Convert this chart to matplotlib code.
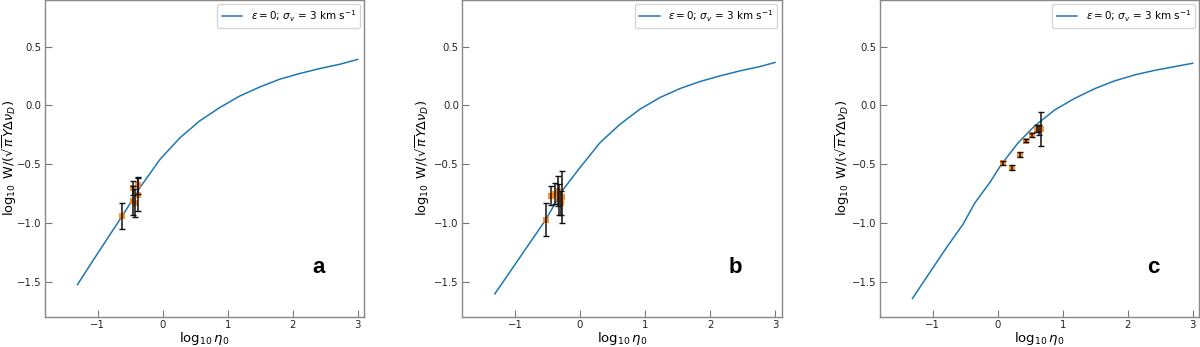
import matplotlib
matplotlib.use('Agg')
import matplotlib.pyplot as plt

# curve of growth (one per panel)
curve_a_x = [-1.31, -1.0, -0.62, -0.35, -0.04, 0.27, 0.57, 0.88, 1.19, 1.50, 1.80, 2.11, 2.42, 2.73, 3.0]
curve_a_y = [-1.526, -1.26, -0.94, -0.70, -0.458, -0.273, -0.131, -0.017, 0.082, 0.159, 0.224, 0.273, 0.315, 0.352, 0.393]

curve_b_x = [-1.31, -1.0, -0.53, -0.256, 0.0, 0.31, 0.615, 0.92, 1.23, 1.54, 1.85, 2.15, 2.46, 2.77, 3.0]
curve_b_y = [-1.605, -1.355, -0.975, -0.713, -0.529, -0.315, -0.16, -0.032, 0.068, 0.145, 0.205, 0.252, 0.295, 0.332, 0.367]

curve_c_x = [-1.31, -1.04, -0.785, -0.53, -0.35, -0.12, 0.06, 0.32, 0.57, 0.88, 1.19, 1.50, 1.80, 2.11, 2.42, 2.73, 3.0]
curve_c_y = [-1.645, -1.42, -1.21, -1.01, -0.83, -0.656, -0.50, -0.315, -0.174, -0.037, 0.062, 0.145, 0.21, 0.261, 0.30, 0.332, 0.36]

# measured points with errors
pts_a_x = [-0.62, -0.46, -0.46, -0.43, -0.385, -0.38]
pts_a_y = [-0.94, -0.70, -0.81, -0.83, -0.68, -0.76]
pts_a_err = [0.11, 0.06, 0.12, 0.12, 0.07, 0.14]

pts_b_x = [-0.53, -0.45, -0.38, -0.34, -0.32, -0.30, -0.28]
pts_b_y = [-0.975, -0.77, -0.75, -0.73, -0.80, -0.83, -0.78]
pts_b_err = [0.14, 0.08, 0.09, 0.13, 0.13, 0.10, 0.22]

pts_c_x = [0.08, 0.22, 0.34, 0.44, 0.53, 0.60, 0.64, 0.67]
pts_c_y = [-0.49, -0.53, -0.42, -0.30, -0.25, -0.20, -0.21, -0.20]
pts_c_err = [0.015, 0.02, 0.02, 0.015, 0.015, 0.03, 0.04, 0.145]

panel_labels = ['a', 'b', 'c']
legend_text = r'$\varepsilon = 0$; $\sigma_v$ = 3 km s$^{-1}$'


def drawPanel(ax, cx, cy, px, py, perr, letter, ylab_x):
    ax.plot(cx, cy, color='#1f77b4', lw=1.1, label=legend_text, zorder=2)
    ax.scatter(px, py, marker='s', s=22, color='#ff7f0e', alpha=0.85, lw=0, zorder=3)
    ax.errorbar(px, py, yerr=perr, fmt='none', ecolor='#111111', elinewidth=1.1,
                capsize=2, capthick=1, zorder=4)
    ax.set_xlim(-1.81, 3.1)
    ax.set_ylim(-1.8, 0.9)
    ax.set_xticks([-1, 0, 1, 2, 3])
    ax.set_yticks([-1.5, -1.0, -0.5, 0.0, 0.5])
    ax.tick_params(direction='in', length=5, width=0.8, color='#777777',
                   labelsize=7.3, labelcolor='#222222', pad=2.5)
    for sp in ax.spines.values():
        sp.set_color('#888888')
        sp.set_linewidth(1.0)
    ax.set_xlabel(r'$\log_{10}\eta_0$', fontsize=9.5, labelpad=0)
    ax.set_ylabel(r'$\log_{10}$ W/($\sqrt{\pi}Y\Delta\nu_D$)', fontsize=9.3)
    ax.yaxis.set_label_coords(ylab_x, 0.5)
    ax.legend(loc='upper right', fontsize=7.5, handlelength=2, borderaxespad=0.4,
              fancybox=True, edgecolor='#cccccc')
    ax.text(0.856, 0.154, letter, transform=ax.transAxes, fontsize=16,
            fontweight='bold', family='Liberation Sans', ha='center', va='center')


fig = plt.figure(figsize=(12, 3.47), dpi=100)
lefts = [0.0375, 0.3853, 0.7333]
axes = [fig.add_axes([l, 0.0873, 0.266, 0.913]) for l in lefts]

drawPanel(axes[0], curve_a_x, curve_a_y, pts_a_x, pts_a_y, pts_a_err, panel_labels[0], -0.082)
drawPanel(axes[1], curve_b_x, curve_b_y, pts_b_x, pts_b_y, pts_b_err, panel_labels[1], -0.096)
drawPanel(axes[2], curve_c_x, curve_c_y, pts_c_x, pts_c_y, pts_c_err, panel_labels[2], -0.088)

fig.savefig('out.png', dpi=100)
